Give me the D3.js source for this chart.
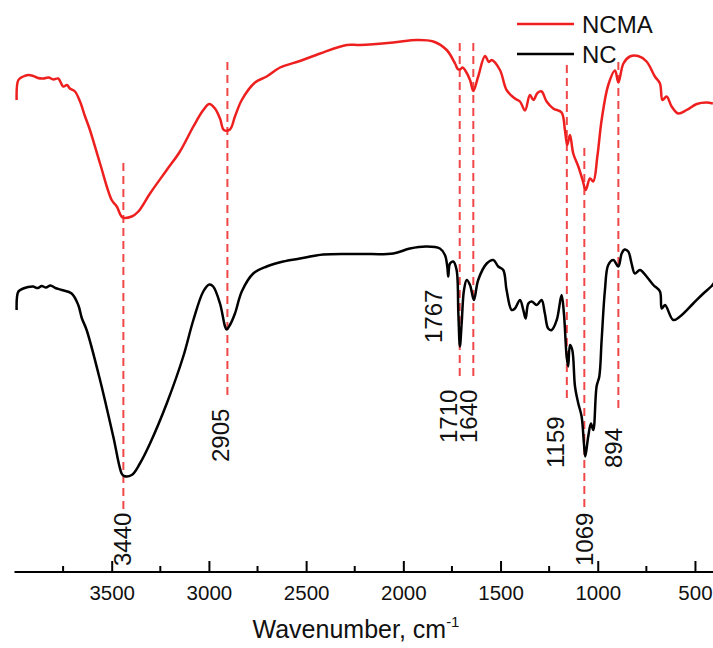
<!DOCTYPE html>
<html>
<head>
<meta charset="utf-8">
<script src="https://cdn.jsdelivr.net/npm/d3@7"></script>
<style>
  body { margin: 0; background: #fff; }
  svg { display: block; font-family: "Liberation Sans", Arial, sans-serif; }
</style>
</head>
<body>
<div id="chart"></div>
<script>
const width = 713;
const height = 648;

// NCMA spectrum (wavenumber, transmittance with offset)
const ncmaWave = [3989, 3980, 3955, 3930, 3903, 3880, 3852, 3825, 3800, 3775, 3749, 3730, 3715, 3689, 3663, 3637, 3612, 3560, 3500, 3474, 3444, 3397, 3363, 3303, 3217, 3149, 3080, 3029, 2998, 2969, 2943, 2923, 2892, 2866, 2831, 2763, 2703, 2634, 2532, 2428, 2291, 2223, 2052, 1931, 1846, 1777, 1734, 1720, 1709, 1695, 1683, 1657, 1640, 1615, 1580, 1560, 1546, 1503, 1469, 1426, 1400, 1374, 1349, 1331, 1310, 1289, 1263, 1229, 1186, 1169, 1157, 1143, 1126, 1100, 1078, 1062, 1040, 1023, 1002, 980, 946, 911, 894, 868, 835, 792, 749, 706, 680, 667, 646, 620, 586, 543, 491, 440, 408];
const ncmaT = [94.4, 98.4, 99.1, 99.4, 99.2, 98.8, 98.7, 98.9, 98.5, 98.7, 97.1, 97.4, 96.7, 96.1, 94.1, 91.1, 88.4, 81.7, 74.4, 73.1, 70.9, 71.1, 72.1, 75.7, 80.4, 84.1, 89.1, 92.4, 93.6, 92.7, 90.7, 88.4, 88.5, 91.1, 94.4, 97.9, 99.1, 100.9, 102.2, 103.7, 105.4, 105.4, 105.9, 106.4, 106.1, 104.4, 101.7, 100.6, 100.5, 100.9, 100.4, 98.4, 96.2, 99.1, 103.2, 102.0, 102.4, 100.4, 96.4, 94.7, 94.1, 92.3, 95.4, 94.4, 95.8, 96.1, 94.1, 92.7, 91.9, 88.4, 85.4, 87.4, 83.7, 81.1, 78.4, 76.4, 78.7, 78.1, 83.1, 90.4, 97.4, 100.3, 97.9, 101.7, 103.1, 103.2, 102.1, 99.1, 97.7, 94.4, 95.1, 93.1, 91.7, 92.4, 93.6, 93.9, 93.7];

// NC spectrum
const ncWave = [3989, 3980, 3955, 3930, 3905, 3880, 3860, 3838, 3815, 3790, 3757, 3706, 3672, 3654, 3629, 3560, 3492, 3449, 3437, 3397, 3355, 3303, 3217, 3132, 3080, 3029, 2998, 2978, 2943, 2917, 2909, 2892, 2866, 2831, 2772, 2703, 2618, 2532, 2412, 2223, 2052, 1966, 1880, 1812, 1786, 1774, 1769, 1760, 1743, 1726, 1717, 1709, 1700, 1688, 1674, 1657, 1637, 1615, 1571, 1537, 1512, 1486, 1469, 1443, 1426, 1400, 1383, 1371, 1357, 1340, 1314, 1289, 1272, 1255, 1237, 1211, 1186, 1174, 1160, 1152, 1143, 1131, 1117, 1100, 1083, 1071, 1064, 1049, 1035, 1023, 1006, 992, 980, 963, 946, 920, 894, 877, 862, 843, 826, 809, 783, 749, 714, 680, 671, 654, 612, 577, 509, 457, 414, 402];
const ncT = [52.4, 56.1, 56.7, 57.0, 57.1, 56.8, 57.2, 56.9, 57.3, 56.8, 56.4, 55.7, 53.4, 50.8, 48.4, 38.4, 27.1, 19.7, 19.2, 19.4, 21.7, 25.7, 33.7, 43.1, 50.4, 56.1, 57.5, 57.1, 53.7, 49.1, 48.5, 49.4, 51.7, 56.1, 59.7, 61.1, 62.1, 62.7, 63.5, 63.6, 63.7, 64.7, 65.1, 64.7, 63.4, 61.1, 59.1, 61.7, 62.1, 60.4, 51.7, 45.1, 49.7, 56.4, 58.4, 57.4, 54.4, 58.4, 61.7, 62.4, 61.1, 60.4, 56.4, 52.4, 52.7, 54.4, 52.4, 50.7, 53.7, 54.1, 53.4, 54.4, 51.7, 48.7, 48.4, 50.4, 55.4, 51.7, 43.1, 41.1, 45.4, 44.4, 37.1, 33.7, 31.1, 25.7, 23.1, 27.1, 29.7, 28.4, 37.1, 39.1, 46.4, 56.4, 61.4, 62.4, 61.1, 63.7, 64.5, 64.1, 61.7, 59.7, 60.4, 59.1, 57.4, 56.1, 52.7, 53.4, 50.4, 51.1, 53.7, 55.7, 57.2, 57.8];

// marked peaks: wavenumber, dashed line top / bottom (transmittance units)
const peakWave = [3440, 2905, 1710, 1640, 1159, 1069, 894];
const peakTop = [81.8, 102, 105.8, 105.8, 101.4, 84.8, 102];
const peakBottom = [12, 35, 38.4, 38.4, 34.4, 12, 32];

// peak labels: text, wavenumber anchor, label start level
const labelText = ["3440", "2905", "1767", "1710", "1640", "1159", "1069", "894"];
const labelWave = [3440, 2905, 1767, 1710, 1640, 1159, 1069, 894];
const labelLevel = [1.2, 22, 45.8, 25.8, 25.8, 20.8, 1.2, 20.8];
const labelShift = [8, 2, -7, -3, 4, -3, 9, 4];

const xTicks = [3500, 3000, 2500, 2000, 1500, 1000, 500];
const xMinor = [3750, 3250, 2750, 2250, 1750, 1250, 750];

const svg = d3.select("#chart").append("svg")
  .attr("width", width).attr("height", height);

const x = d3.scaleLinear().domain([4000, 400]).range([14.5, 714.4]);
const y = d3.scaleLinear().domain([0, 110]).range([572, 22]);

// dashed peak markers
svg.append("g").selectAll("line")
  .data(peakWave)
  .enter().append("line")
  .attr("x1", d => x(d)).attr("x2", d => x(d))
  .attr("y1", (d, i) => y(peakTop[i]))
  .attr("y2", (d, i) => y(peakBottom[i]))
  .attr("stroke", "#f04848")
  .attr("stroke-width", 2)
  .attr("stroke-dasharray", "8,5");

const line = d3.line()
  .x(d => x(d[0]))
  .y(d => y(d[1]))
  .curve(d3.curveCatmullRom.alpha(0.5));

svg.append("path")
  .datum(d3.zip(ncmaWave, ncmaT))
  .attr("d", line)
  .attr("fill", "none")
  .attr("stroke", "#ee1f1f")
  .attr("stroke-width", 2.5)
  .attr("stroke-linejoin", "round");

svg.append("path")
  .datum(d3.zip(ncWave, ncT))
  .attr("d", line)
  .attr("fill", "none")
  .attr("stroke", "#000")
  .attr("stroke-width", 2.5)
  .attr("stroke-linejoin", "round");

// rotated peak labels
svg.append("g").selectAll("text")
  .data(labelText)
  .enter().append("text")
  .attr("transform", (d, i) => `translate(${x(labelWave[i]) + labelShift[i]},${y(labelLevel[i])}) rotate(-90)`)
  .attr("font-size", 24)
  .attr("fill", "#111")
  .text(d => d);

// x axis
const gx = svg.append("g").attr("transform", `translate(0,${y(0)})`);
gx.call(d3.axisBottom(x).tickValues(xTicks).tickSize(-11).tickPadding(13).tickFormat(d3.format("d")));
gx.select(".domain").attr("stroke-width", 2).attr("d", `M${x(4000)},0H713`);
gx.selectAll(".tick line").attr("stroke-width", 2);
gx.selectAll(".tick text").attr("font-size", 20.5).attr("font-family", "Liberation Sans, Arial, sans-serif").attr("fill", "#111");

svg.append("g").attr("transform", `translate(0,${y(0)})`)
  .selectAll("line").data(xMinor).enter().append("line")
  .attr("x1", d => x(d)).attr("x2", d => x(d))
  .attr("y1", 0).attr("y2", -6)
  .attr("stroke", "#000").attr("stroke-width", 2);

const title = svg.append("text")
  .attr("x", 356).attr("y", 638)
  .attr("text-anchor", "middle")
  .attr("font-size", 25)
  .attr("fill", "#111");
title.append("tspan").text("Wavenumber, cm");
title.append("tspan").attr("dy", -11).attr("font-size", 15).text("-1");

// legend
const legendNames = ["NCMA", "NC"];
const legendColors = ["#ee1f1f", "#000"];
const lg = svg.append("g").selectAll("g")
  .data(legendNames).enter().append("g")
  .attr("transform", (d, i) => `translate(517,${24 + i * 30})`);
lg.append("line").attr("x1", 0).attr("x2", 57)
  .attr("stroke", (d, i) => legendColors[i]).attr("stroke-width", 2.5);
lg.append("text").attr("x", 65).attr("y", 9)
  .attr("font-size", 24).attr("fill", "#111").text(d => d);
</script>
</body>
</html>
